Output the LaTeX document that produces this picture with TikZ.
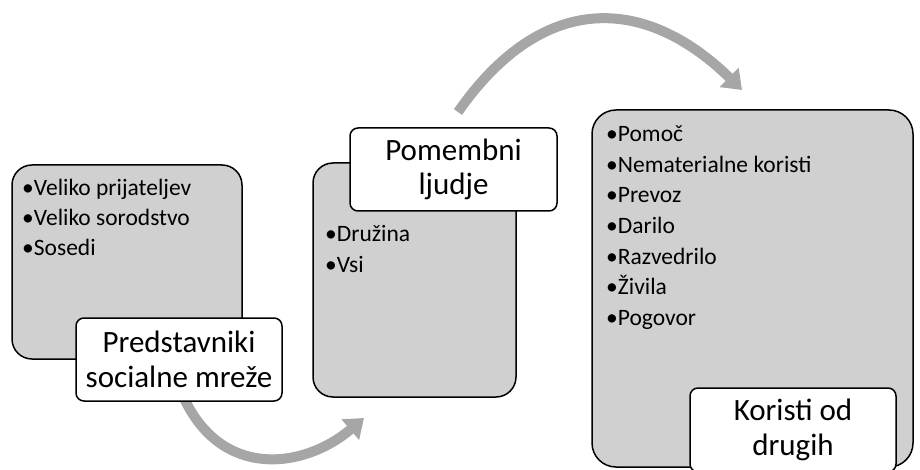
\documentclass[tikz,border=0pt]{standalone}
\usepackage{fontspec}
\setmainfont{Carlito}
\usetikzlibrary{arrows.meta}
\definecolor{boxgray}{RGB}{208,208,208}
\definecolor{arrowgray}{RGB}{166,166,166}
\begin{document}
\begin{tikzpicture}[x=1pt,y=-1pt,
  bigbox/.style={draw=black,line width=1.5pt,fill=boxgray,rounded corners=20pt,inner sep=0pt},
  labelbox/.style={draw=black,line width=1.5pt,fill=white,rounded corners=8pt,inner sep=0pt,align=center,
    font=\fontsize{31}{34.5}\selectfont},
  item/.style={anchor=base west,inner sep=0pt,font=\fontsize{23.5}{28}\selectfont},
  flow/.style={draw=arrowgray,line width=10pt,-{Triangle[width=26pt,length=18pt]}}]
\useasboundingbox (0,0) rectangle (920,470);
% arrows (behind)
\coordinate (a1s) at (183,396);
\coordinate (a1e) at (364,418);
\coordinate (a2s) at (458,112);
\coordinate (a2e) at (742,90);
\draw[flow] (a1s) .. controls (221,480) and (304,469) .. (a1e);
\draw[flow] (a2s) .. controls (543,-10) and (646,-4) .. (a2e);
% box 1
\node[bigbox,minimum width=230pt,minimum height=194pt] (box1) at (127,262) {};
\node[item] (b1i1) at (22,196) {•Veliko prijateljev};
\node[item] (b1i2) at (22,225.5) {•Veliko sorodstvo};
\node[item] (b1i3) at (22,255) {•Sosedi};
\node[labelbox,minimum width=206pt,minimum height=83pt] (lab1) at (179,359.5) {Predstavniki\\socialne mreže};
% box 2
\node[bigbox,minimum width=203pt,minimum height=234pt] (box2) at (414.5,280) {};
\node[item] (b2i1) at (325,242) {•Družina};
\node[item] (b2i2) at (325,272) {•Vsi};
\node[labelbox,minimum width=207pt,minimum height=83pt] (lab2) at (453.5,169.5) {Pomembni\\ljudje};
% box 3
\node[bigbox,rounded corners=24pt,minimum width=321pt,minimum height=357pt] (box3) at (752.5,288.5) {};
\node[item] (b3i1) at (606,142) {•Pomoč};
\node[item] (b3i2) at (606,172.5) {•Nematerialne koristi};
\node[item] (b3i3) at (606,203) {•Prevoz};
\node[item] (b3i4) at (606,233.5) {•Darilo};
\node[item] (b3i5) at (606,264) {•Razvedrilo};
\node[item] (b3i6) at (606,294.5) {•Živila};
\node[item] (b3i7) at (606,325) {•Pogovor};
\node[labelbox,minimum width=206pt,minimum height=84pt] (lab3) at (793,430) {Koristi od\\drugih};
\end{tikzpicture}
\end{document}
